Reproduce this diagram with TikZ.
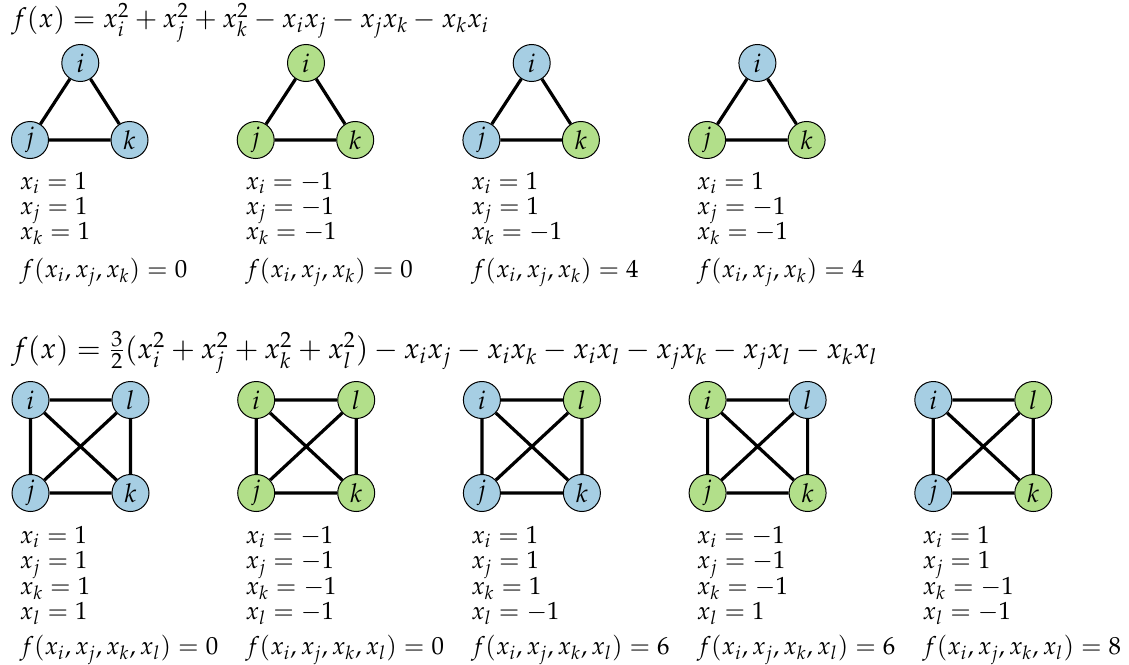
\documentclass[tikz,border=0pt]{standalone}
\usepackage{amsmath}
\usepackage{mathpazo}
\usepackage{tikz}
\usetikzlibrary{positioning}
\definecolor{pairblue}{RGB}{166,206,227}
\definecolor{pairgreen}{RGB}{178,223,138}

\begin{document}
\begin{tikzpicture}[
  x=0.5pt, y=-0.5pt,
  vtx/.style={circle, draw, line width=0.5pt, minimum size=18.5pt,
              inner sep=0pt, font=\fontsize{13}{15}\selectfont},
  blu/.style={vtx, fill=pairblue},
  grn/.style={vtx, fill=pairgreen},
  edge/.style={line width=1.6pt},
  txt/.style={anchor=base west, inner sep=0pt,
              font=\fontsize{12.4}{15}\selectfont},
  formula/.style={txt, font=\fontsize{#1}{16}\selectfont}
]
\useasboundingbox (0,0) rectangle (1129,664);
% Triangle formula
\node[formula=13.6] (ftop) at (11,27)
  {$f(x) = x_i^2 + x_j^2 + x_k^2 - x_i x_j - x_j x_k - x_k x_i$};
% Triangles
\foreach \c/\ci/\cj/\ck/\vi/\vj/\vk/\fv in
  {0/blu/blu/blu/1/1/1/0, 1/grn/grn/grn/-1/-1/-1/0,
   2/blu/blu/grn/1/1/-1/4, 3/blu/grn/grn/1/-1/-1/4}{
  \node[\ci] (ti\c) at (80.3+225.7*\c,63)  {$i$};
  \node[\cj] (tj\c) at (30+225.7*\c,140)   {$j$};
  \node[\ck] (tk\c) at (129.5+225.7*\c,140) {$k$};
  \draw[edge] (ti\c) -- (tj\c) (ti\c) -- (tk\c) (tj\c) -- (tk\c);
  \node[txt] (tvi\c) at (19.5+225.7*\c,189) {$x_i = \vi$};
  \node[txt] (tvj\c) at (19.5+225.7*\c,214) {$x_j = \vj$};
  \node[txt] (tvk\c) at (19.5+225.7*\c,239.5) {$x_k = \vk$};
  \node[txt] (tf\c)  at (19.5+225.7*\c,277) {$f(x_i, x_j, x_k) = \fv$};
}
% Square formula
\node[formula=14.5] (fbot) at (11,358)
  {$f(x) = \frac{3}{2}(x_i^2 + x_j^2 + x_k^2 + x_l^2) - x_i x_j - x_i x_k
   - x_i x_l - x_j x_k - x_j x_l - x_k x_l$};
% Squares
\foreach \c/\ci/\cj/\ck/\cl/\vi/\vj/\vk/\vl/\fv in
  {0/blu/blu/blu/blu/1/1/1/1/0, 1/grn/grn/grn/grn/-1/-1/-1/-1/0,
   2/blu/blu/blu/grn/1/1/1/-1/6, 3/grn/grn/grn/blu/-1/-1/-1/1/6,
   4/blu/blu/grn/grn/1/1/-1/-1/8}{
  \node[\ci] (si\c) at (30.5+225.7*\c,400)  {$i$};
  \node[\cl] (sl\c) at (130.5+225.7*\c,400) {$l$};
  \node[\cj] (sj\c) at (30.5+225.7*\c,493)  {$j$};
  \node[\ck] (sk\c) at (130.5+225.7*\c,493) {$k$};
  \draw[edge] (si\c) -- (sl\c) (si\c) -- (sj\c) (sl\c) -- (sk\c)
              (sj\c) -- (sk\c) (si\c) -- (sk\c) (sj\c) -- (sl\c);
  \node[txt] (svi\c) at (19.5+225.7*\c,543) {$x_i = \vi$};
  \node[txt] (svj\c) at (19.5+225.7*\c,568.5) {$x_j = \vj$};
  \node[txt] (svk\c) at (19.5+225.7*\c,594) {$x_k = \vk$};
  \node[txt] (svl\c) at (19.5+225.7*\c,619.5) {$x_l = \vl$};
  \node[txt] (sf\c)  at (19.5+225.7*\c,654.5) {$f(x_i, x_j, x_k, x_l) = \fv$};
}
\end{tikzpicture}
\end{document}
